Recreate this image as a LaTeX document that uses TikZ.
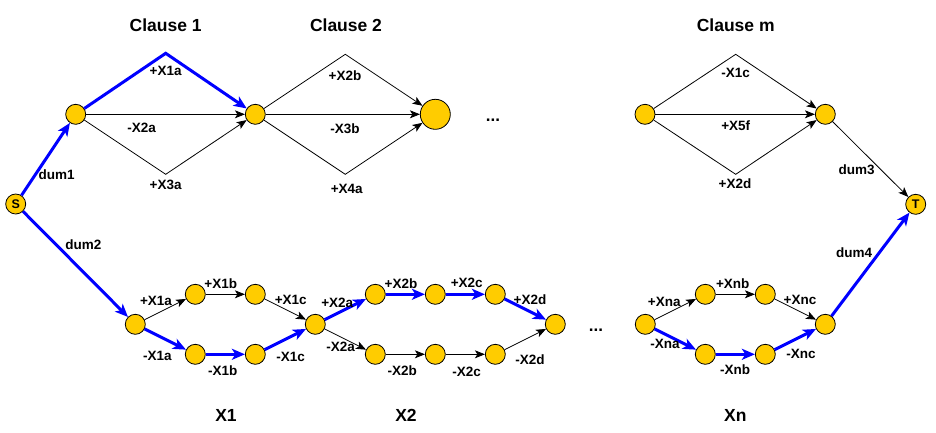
\documentclass[tikz,border=0pt]{standalone}
\usepackage{fontspec}
\setmainfont{Liberation Sans}
\usetikzlibrary{arrows.meta}
\definecolor{gold}{RGB}{255,204,0}
\definecolor{pathblue}{RGB}{0,0,255}
\tikzset{
  vtx/.style={circle,draw=black,fill=gold,line width=0.8pt,minimum size=20pt,inner sep=0pt},
  bigvtx/.style={vtx,minimum size=30pt},
  endvtx/.style={vtx,minimum size=20pt,font=\fontsize{12.5}{14}\selectfont\bfseries},
  blk/.style={draw=black,line width=0.8pt,-{Stealth[length=10pt,width=8pt,inset=2.5pt]}},
  blu/.style={draw=pathblue,line width=3pt,-{Stealth[length=13pt,width=11pt,inset=3.5pt]}},
  lab/.style={font=\fontsize{13.5}{16}\selectfont\bfseries,inner sep=0pt},
  ttl/.style={font=\fontsize{17.5}{20}\selectfont\bfseries,inner sep=0pt},
}
\begin{document}
\begin{tikzpicture}[x=1pt,y=-1pt]
\useasboundingbox (0,0) rectangle (936,432);
% clause nodes
\node[endvtx] (S) at (15.7,204) {S};
\node[endvtx] (T) at (915.7,204.3) {T};
\node[vtx] (c1s) at (75.7,114.3) {};
\node[vtx] (c1e) at (255.3,114.3) {};
\node[bigvtx] (c2e) at (435.3,114.3) {};
\node[vtx] (cms) at (645,114.3) {};
\node[vtx] (cme) at (825.3,114.3) {};
\coordinate (c1t) at (165.7,53.3);
\coordinate (c1b) at (165.7,174.3);
\coordinate (c2t) at (345.3,54.3);
\coordinate (c2b) at (345.3,174.3);
\coordinate (cmt) at (735.7,54.3);
\coordinate (cmb) at (735.7,174.3);
% variable nodes
\node[vtx] (x1s) at (135.3,324.3) {};
\node[vtx] (x1t1) at (195.3,294.3) {};
\node[vtx] (x1t2) at (255.3,294.3) {};
\node[vtx] (x1b1) at (195.3,354.3) {};
\node[vtx] (x1b2) at (255.3,354.3) {};
\node[vtx] (x2s) at (315.3,324.3) {};
\node[vtx] (x2t1) at (375.3,294.3) {};
\node[vtx] (x2t2) at (435.3,294.3) {};
\node[vtx] (x2t3) at (495.3,294.3) {};
\node[vtx] (x2b1) at (375.3,354.3) {};
\node[vtx] (x2b2) at (435.3,354.3) {};
\node[vtx] (x2b3) at (495.3,354.3) {};
\node[vtx] (x2e) at (555.3,324.3) {};
\node[vtx] (xns) at (645.3,324.3) {};
\node[vtx] (xnt1) at (705.3,294.3) {};
\node[vtx] (xnt2) at (765.3,294.3) {};
\node[vtx] (xnb1) at (705.3,354.3) {};
\node[vtx] (xnb2) at (765.3,354.3) {};
\node[vtx] (xne) at (825.3,324.3) {};
% clause edges
\draw[blu] (S) -- (c1s);
\draw[blu] (c1s) -- (c1t) -- (c1e);
\draw[blk] (c1s) -- (c1e);
\draw[blk] (c1s) -- (c1b) -- (c1e);
\draw[blk] (c1e) -- (c2t) -- (c2e);
\draw[blk] (c1e) -- (c2e);
\draw[blk] (c1e) -- (c2b) -- (c2e);
\draw[blk] (cms) -- (cmt) -- (cme);
\draw[blk] (cms) -- (cme);
\draw[blk] (cms) -- (cmb) -- (cme);
\draw[blk] (cme) -- (T);
% variable edges
\draw[blu] (S) -- (x1s);
\draw[blk] (x1s) -- (x1t1);
\draw[blk] (x1t1) -- (x1t2);
\draw[blk] (x1t2) -- (x2s);
\draw[blu] (x1s) -- (x1b1);
\draw[blu] (x1b1) -- (x1b2);
\draw[blu] (x1b2) -- (x2s);
\draw[blu] (x2s) -- (x2t1);
\draw[blu] (x2t1) -- (x2t2);
\draw[blu] (x2t2) -- (x2t3);
\draw[blu] (x2t3) -- (x2e);
\draw[blk] (x2s) -- (x2b1);
\draw[blk] (x2b1) -- (x2b2);
\draw[blk] (x2b2) -- (x2b3);
\draw[blk] (x2b3) -- (x2e);
\draw[blk] (xns) -- (xnt1);
\draw[blk] (xnt1) -- (xnt2);
\draw[blk] (xnt2) -- (xne);
\draw[blu] (xns) -- (xnb1);
\draw[blu] (xnb1) -- (xnb2);
\draw[blu] (xnb2) -- (xne);
\draw[blu] (xne) -- (T);
% titles
\node[ttl] (t1) at (165.7,25) {Clause 1};
\node[ttl] (t2) at (346,25) {Clause 2};
\node[ttl] (tm) at (735.7,25) {Clause m};
\node[ttl] (tx1) at (226,415) {X1};
\node[ttl] (tx2) at (406,415) {X2};
\node[ttl] (txn) at (735.3,415) {Xn};
% dots
\node[lab,anchor=base,font=\fontsize{17}{20}\selectfont\bfseries] (d1) at (493,121) {...};
\node[lab,anchor=base,font=\fontsize{17}{20}\selectfont\bfseries] (d2) at (596,331) {...};
% labels
\node[lab] (l1) at (165.7,70.7) {+X1a};
\node[lab] (l2) at (141.7,128.3) {-X2a};
\node[lab] (l3) at (165.7,185) {+X3a};
\node[lab] (l4) at (345,76) {+X2b};
\node[lab] (l5) at (345,128.3) {-X3b};
\node[lab] (l6) at (346.7,189.3) {+X4a};
\node[lab] (l7) at (735.7,73.3) {-X1c};
\node[lab] (l8) at (735.7,126) {+X5f};
\node[lab] (l9) at (735,183.3) {+X2d};
\node[lab] (ld1) at (56.7,174.3) {dum1};
\node[lab] (ld2) at (83.3,245) {dum2};
\node[lab] (ld3) at (856.7,169.3) {dum3};
\node[lab] (ld4) at (854,252.3) {dum4};
\node[lab] (a1) at (156,301) {+X1a};
\node[lab] (a2) at (220.7,283.3) {+X1b};
\node[lab] (a3) at (290.7,300) {+X1c};
\node[lab] (a4) at (157.3,356) {-X1a};
\node[lab] (a5) at (222.7,370.7) {-X1b};
\node[lab] (a6) at (290.7,356.7) {-X1c};
\node[lab] (b1) at (337.3,303.3) {+X2a};
\node[lab] (b2) at (401,283.3) {+X2b};
\node[lab] (b3) at (466.7,282.7) {+X2c};
\node[lab] (b4) at (530,300) {+X2d};
\node[lab] (b5) at (340.7,347.3) {-X2a};
\node[lab] (b6) at (402.3,370.7) {-X2b};
\node[lab] (b7) at (466.7,371.7) {-X2c};
\node[lab] (b8) at (530,360) {-X2d};
\node[lab] (n1) at (664.3,302.3) {+Xna};
\node[lab] (n2) at (732.7,283.3) {+Xnb};
\node[lab] (n3) at (800,300) {+Xnc};
\node[lab] (n4) at (665,344) {-Xna};
\node[lab] (n5) at (735,369.3) {-Xnb};
\node[lab] (n6) at (801,354.3) {-Xnc};
\end{tikzpicture}
\end{document}
